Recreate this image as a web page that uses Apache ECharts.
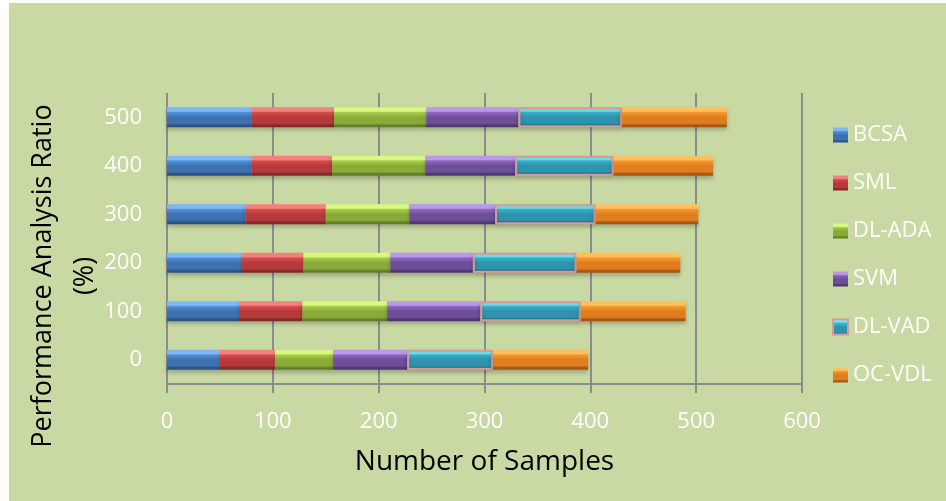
<!DOCTYPE html>
<html>
<head>
<meta charset="utf-8">
<script src="https://cdn.jsdelivr.net/npm/echarts@6/dist/echarts.min.js"></script>
<style>
  html, body { margin: 0; padding: 0; background: #ffffff; }
  #bg { position: absolute; left: 9px; top: 3px; width: 937px; height: 498px; background: #c9d9a4; }
  #chart { position: absolute; left: 0; top: 0; width: 946px; height: 501px; }
</style>
</head>
<body>
<div id="bg"></div>
<div id="chart"></div>
<script>
// Sample-count groups on the vertical axis (bottom to top)
const categories = ['0', '100', '200', '300', '400', '500'];

// Stacked performance values per method
const seriesNames = ['BCSA', 'SML', 'DL-ADA', 'SVM', 'DL-VAD', 'OC-VDL'];
const bcsa  = [50, 68, 71, 74, 80, 80];
const sml   = [52, 60, 58, 76, 76, 78];
const dlAda = [55, 80, 82, 79, 88, 87];
const svm   = [70, 88, 78, 81, 85, 87];
const dlVad = [81, 95, 98, 95, 93, 98];
const ocVdl = [90, 99, 98, 97, 94, 99];

// Horizontal value axis ticks
const xTicks = [0, 100, 200, 300, 400, 500, 600];

// Bevel-like shading: light top band, body, darker lower edge
const palettes = [
  ['#7fb8f7', '#5291d9', '#3d71b0', '#2b5386'],
  ['#f68080', '#d54d4d', '#b63a3a', '#82292a'],
  ['#d8f880', '#aacd4c', '#8bab39', '#62802a'],
  ['#bc98ea', '#8c68c0', '#6e4e99', '#4f3870'],
  ['#70eefc', '#3fbad6', '#2e93ad', '#206c82'],
  ['#ffc05e', '#f49831', '#e07e1f', '#a55810']
];

function bevel(p) {
  return new echarts.graphic.LinearGradient(0, 0, 0, 1, [
    { offset: 0, color: p[0] },
    { offset: 0.2, color: p[0] },
    { offset: 0.26, color: p[1] },
    { offset: 0.5, color: p[2] },
    { offset: 0.8, color: p[2] },
    { offset: 0.9, color: p[3] },
    { offset: 1, color: p[3] }
  ]);
}

const values = [bcsa, sml, dlAda, svm, dlVad, ocVdl];
const series = seriesNames.map((name, i) => ({
  name: name,
  type: 'bar',
  stack: 'total',
  barWidth: 20,
  data: values[i],
  itemStyle: {
    color: bevel(palettes[i]),
    borderColor: i === 4 ? '#d49a9a' : 'rgba(0,0,0,0)',
    borderWidth: i === 4 ? 2 : 0,
    shadowColor: 'rgba(0,0,0,0.22)',
    shadowBlur: 4,
    shadowOffsetY: 3
  }
}));

const gridColor = '#8c8c8c';
const chart = echarts.init(document.getElementById('chart'), null, { renderer: 'canvas' });
chart.setOption({
  backgroundColor: 'transparent',
  animation: false,
  textStyle: { fontFamily: 'Open Sans' },
  grid: { left: 167, right: 144, top: 93, bottom: 117, containLabel: false },
  legend: {
    orient: 'vertical',
    left: 827,
    top: 119,
    itemWidth: 15,
    itemHeight: 15,
    itemGap: 26,
    icon: 'rect',
    data: seriesNames,
    textStyle: { color: '#ffffff', fontSize: 22, fontFamily: 'Open Sans', lineHeight: 22 }
  },
  xAxis: {
    type: 'value',
    min: xTicks[0],
    max: xTicks[xTicks.length - 1],
    interval: 100,
    name: 'Number of Samples',
    nameLocation: 'middle',
    nameGap: 64,
    nameTextStyle: { color: '#000000', fontSize: 28, fontFamily: 'Open Sans' },
    axisLine: { show: true, lineStyle: { color: gridColor, width: 2 } },
    axisTick: { show: true, length: 9, lineStyle: { color: gridColor, width: 2 } },
    axisLabel: { color: '#ffffff', fontSize: 22, margin: 27, fontFamily: 'Open Sans' },
    splitLine: { show: true, lineStyle: { color: gridColor, width: 2 } }
  },
  yAxis: {
    type: 'category',
    data: categories,
    axisLine: { show: false },
    axisTick: { show: false },
    axisLabel: { color: '#ffffff', fontSize: 22, margin: 25, fontFamily: 'Open Sans' }
  },
  graphic: [{
    type: 'text',
    x: 64,
    y: 276,
    rotation: Math.PI / 2,
    style: {
      text: 'Performance Analysis Ratio\n(%)',
      fill: '#000000',
      font: '27px "Open Sans"',
      lineHeight: 42,
      align: 'center',
      verticalAlign: 'middle'
    }
  }],
  series: series
});
</script>
</body>
</html>
